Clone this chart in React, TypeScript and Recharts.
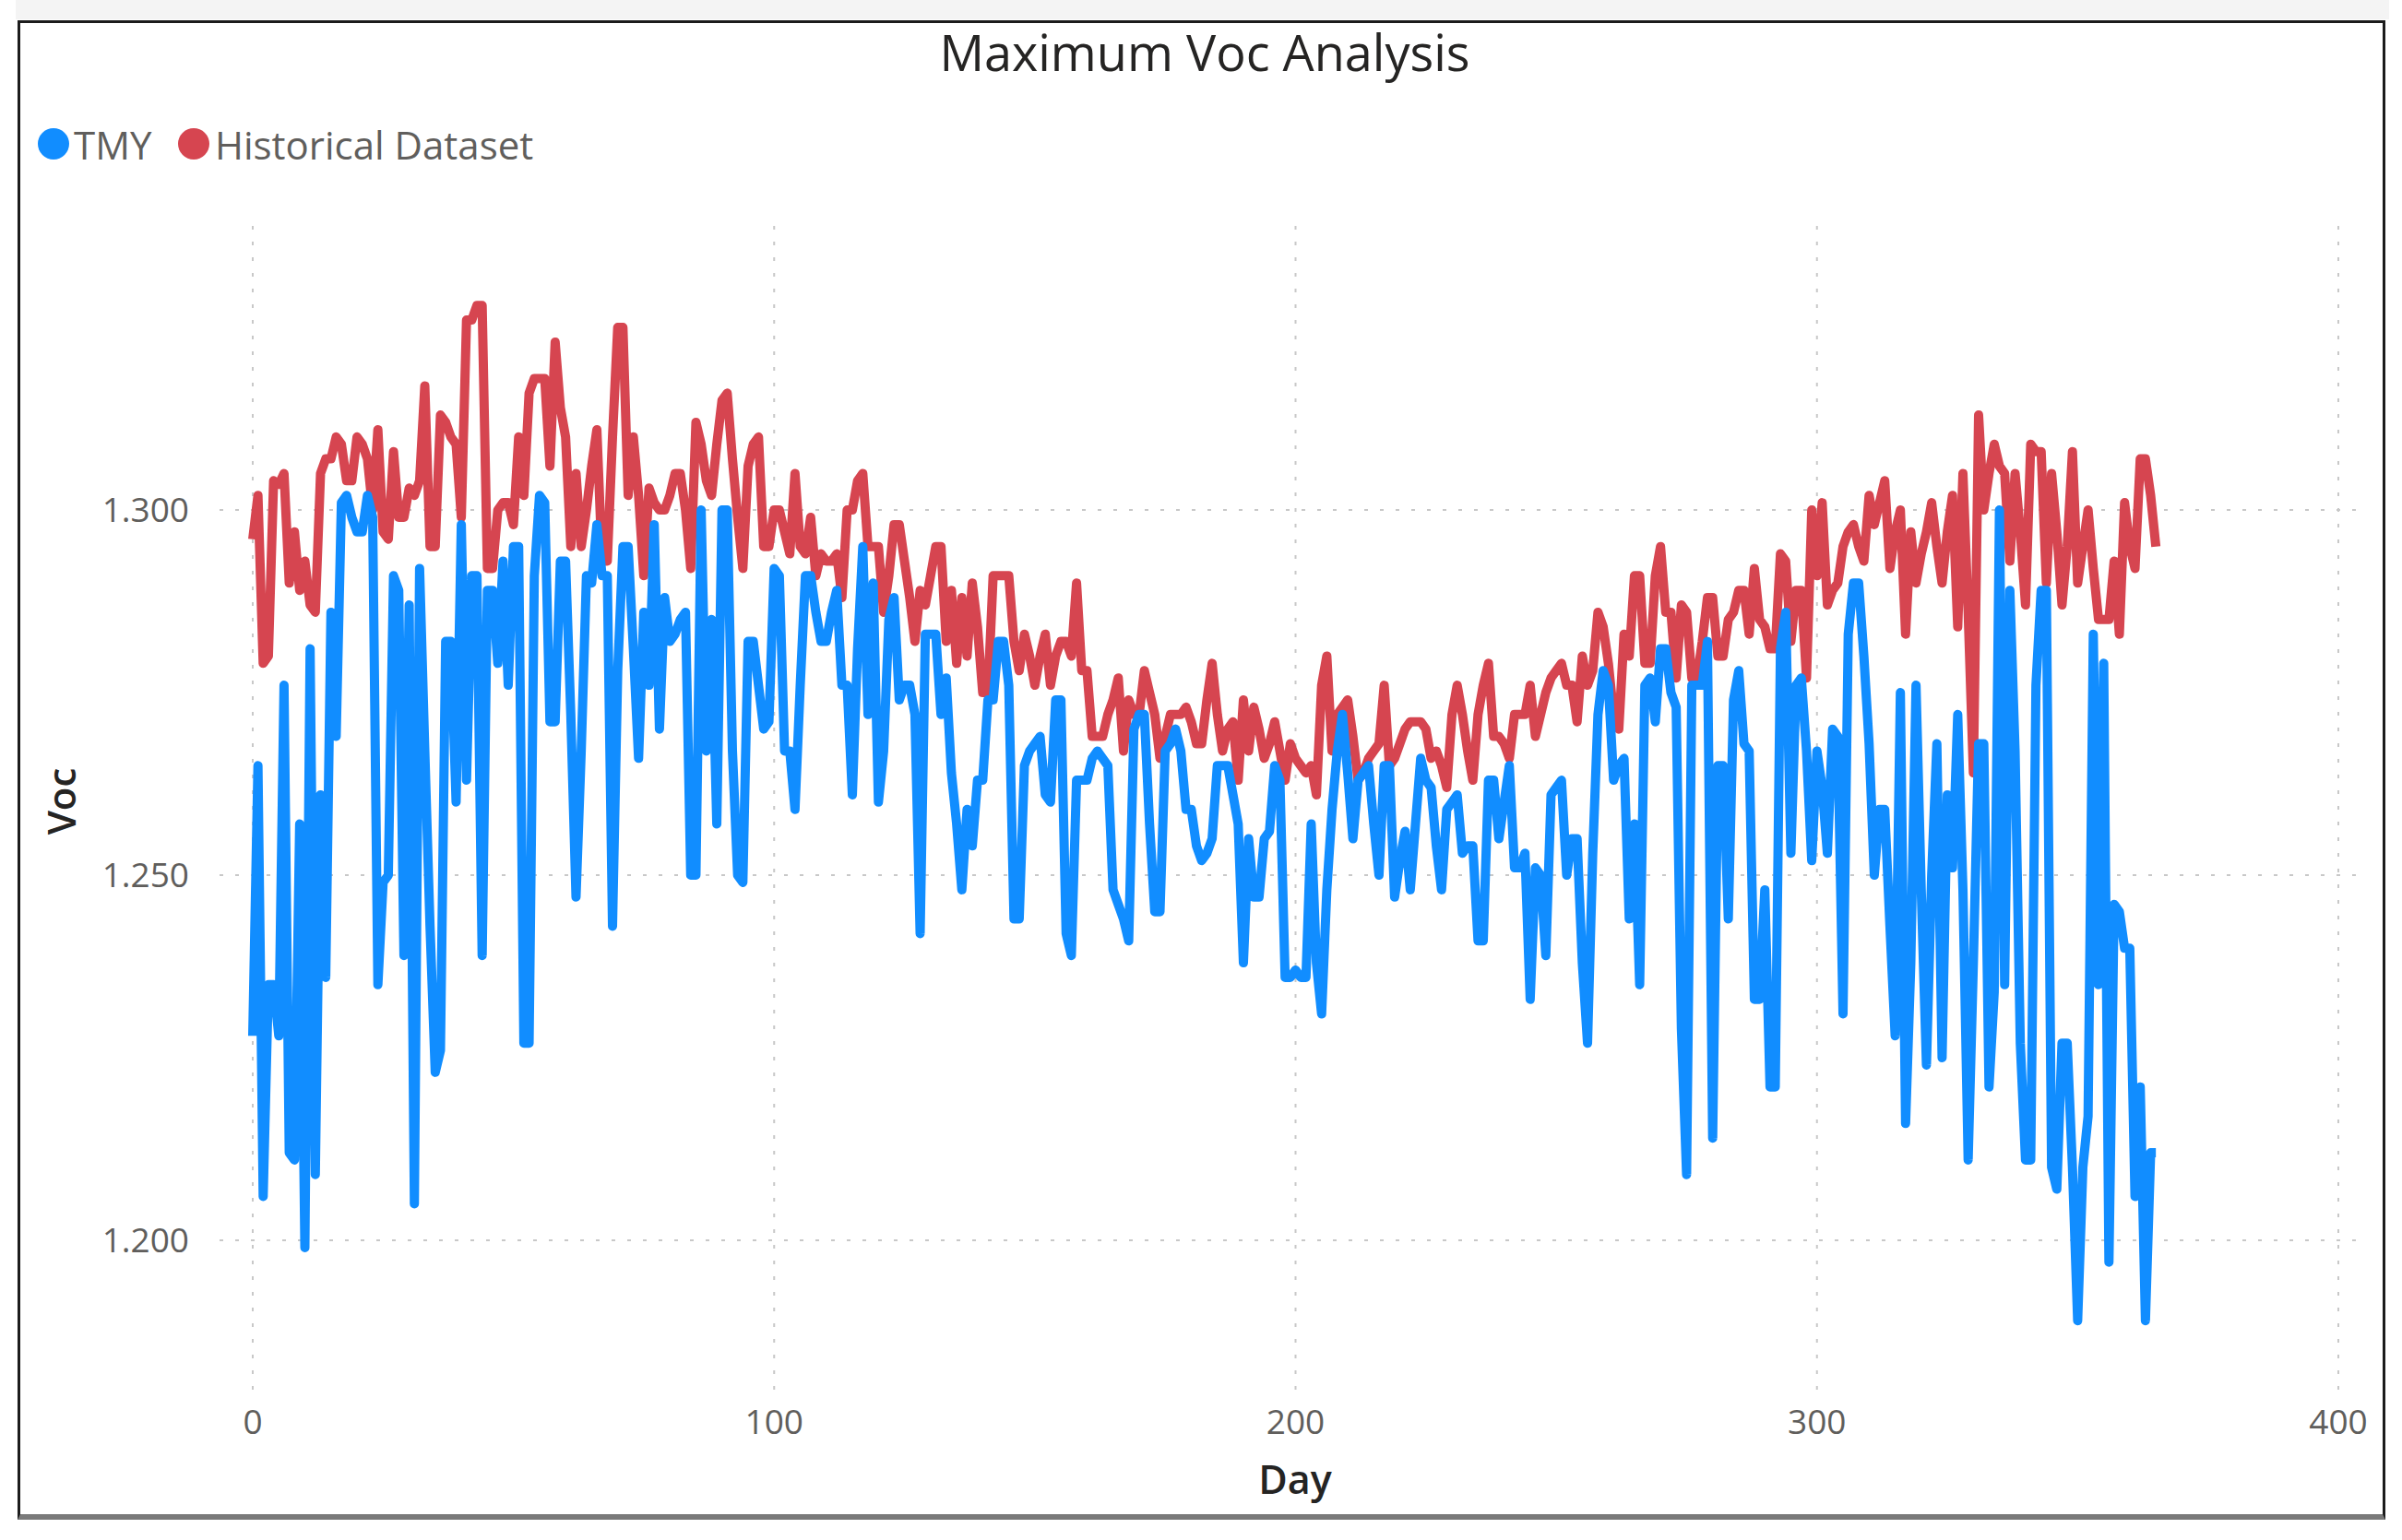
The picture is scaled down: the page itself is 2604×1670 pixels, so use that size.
import { LineChart, Line, XAxis, YAxis, ReferenceLine } from 'recharts';

// Max Voc per day (day index = position)
const tmy = [
  1.228, 1.265, 1.206, 1.235, 1.235, 1.228, 1.276, 1.212, 1.211, 1.257,
  1.199, 1.281, 1.209, 1.261, 1.236, 1.286, 1.269, 1.301, 1.302, 1.299,
  1.297, 1.297, 1.302, 1.299, 1.235, 1.249, 1.25, 1.291, 1.289, 1.239,
  1.287, 1.205, 1.292, 1.267, 1.243, 1.223, 1.226, 1.282, 1.282, 1.26,
  1.298, 1.263, 1.291, 1.291, 1.239, 1.289, 1.289, 1.279, 1.293, 1.276,
  1.295, 1.295, 1.227, 1.227, 1.291, 1.302, 1.301, 1.271, 1.271, 1.293,
  1.293, 1.272, 1.247, 1.267, 1.291, 1.29, 1.298, 1.291, 1.291, 1.243,
  1.278, 1.295, 1.295, 1.281, 1.266, 1.286, 1.276, 1.298, 1.27, 1.288,
  1.282, 1.283, 1.285, 1.286, 1.25, 1.25, 1.3, 1.267, 1.285, 1.257,
  1.3, 1.3, 1.267, 1.25, 1.249, 1.282, 1.282, 1.276, 1.27, 1.271,
  1.292, 1.291, 1.267, 1.267, 1.259, 1.276, 1.291, 1.291, 1.286, 1.282,
  1.282, 1.286, 1.289, 1.276, 1.276, 1.261, 1.281, 1.295, 1.272, 1.29,
  1.26, 1.267, 1.285, 1.288, 1.274, 1.276, 1.276, 1.272, 1.242, 1.283,
  1.283, 1.283, 1.272, 1.277, 1.264, 1.257, 1.248, 1.259, 1.254, 1.263,
  1.263, 1.274, 1.274, 1.282, 1.282, 1.276, 1.244, 1.244, 1.265, 1.267,
  1.268, 1.269, 1.261, 1.26, 1.274, 1.274, 1.242, 1.239, 1.263, 1.263,
  1.263, 1.266, 1.267, 1.266, 1.265, 1.248, 1.246, 1.244, 1.241, 1.27,
  1.272, 1.272, 1.257, 1.245, 1.245, 1.267, 1.268, 1.27, 1.267, 1.259,
  1.259, 1.254, 1.252, 1.253, 1.255, 1.265, 1.265, 1.265, 1.261, 1.257,
  1.238, 1.255, 1.247, 1.247, 1.255, 1.256, 1.265, 1.263, 1.236, 1.236,
  1.237, 1.236, 1.236, 1.257, 1.238, 1.231, 1.248, 1.259, 1.267, 1.272,
  1.264, 1.255, 1.263, 1.264, 1.265, 1.257, 1.25, 1.265, 1.265, 1.247,
  1.252, 1.256, 1.248, 1.257, 1.266, 1.263, 1.262, 1.254, 1.248, 1.259,
  1.26, 1.261, 1.253, 1.254, 1.254, 1.241, 1.241, 1.263, 1.263, 1.255,
  1.26, 1.265, 1.251, 1.251, 1.253, 1.233, 1.251, 1.25, 1.239, 1.261,
  1.262, 1.263, 1.25, 1.255, 1.255, 1.238, 1.227, 1.253, 1.272, 1.278,
  1.276, 1.263, 1.265, 1.266, 1.244, 1.257, 1.235, 1.276, 1.277, 1.271,
  1.281, 1.281, 1.275, 1.273, 1.229, 1.209, 1.276, 1.276, 1.276, 1.282,
  1.214, 1.265, 1.265, 1.244, 1.274, 1.278, 1.268, 1.267, 1.233, 1.233,
  1.248, 1.221, 1.221, 1.281, 1.286, 1.253, 1.276, 1.277, 1.267, 1.252,
  1.267, 1.262, 1.253, 1.27, 1.269, 1.231, 1.283, 1.29, 1.29, 1.28,
  1.268, 1.25, 1.259, 1.259, 1.243, 1.228, 1.275, 1.216, 1.238, 1.276,
  1.248, 1.224, 1.25, 1.268, 1.225, 1.261, 1.251, 1.272, 1.248, 1.211,
  1.238, 1.268, 1.268, 1.221, 1.234, 1.3, 1.235, 1.289, 1.267, 1.227,
  1.211, 1.211, 1.276, 1.289, 1.289, 1.21, 1.207, 1.227, 1.227, 1.21,
  1.189, 1.21, 1.217, 1.283, 1.235, 1.279, 1.197, 1.246, 1.245, 1.24,
  1.24, 1.206, 1.221, 1.189, 1.212, 1.212,
];

const historical = [
  1.296, 1.302, 1.279, 1.28, 1.304, 1.3035, 1.305, 1.29, 1.297, 1.289,
  1.293, 1.287, 1.286, 1.305, 1.307, 1.307, 1.31, 1.309, 1.304, 1.304,
  1.31, 1.309, 1.307, 1.3, 1.311, 1.297, 1.296, 1.308, 1.299, 1.299,
  1.303, 1.302, 1.304, 1.317, 1.295, 1.295, 1.313, 1.312, 1.31, 1.309,
  1.299, 1.326, 1.326, 1.328, 1.328, 1.292, 1.292, 1.3, 1.301, 1.301,
  1.298, 1.31, 1.302, 1.316, 1.318, 1.318, 1.318, 1.306, 1.323, 1.314,
  1.31, 1.295, 1.305, 1.295, 1.3, 1.306, 1.311, 1.293, 1.293, 1.31,
  1.325, 1.325, 1.302, 1.31, 1.302, 1.291, 1.303, 1.301, 1.3, 1.3,
  1.302, 1.305, 1.305, 1.3, 1.292, 1.312, 1.309, 1.304, 1.302, 1.309,
  1.315, 1.316, 1.307, 1.299, 1.292, 1.306, 1.309, 1.31, 1.295, 1.295,
  1.3, 1.3, 1.297, 1.294, 1.305, 1.295, 1.294, 1.299, 1.291, 1.294,
  1.293, 1.293, 1.294, 1.288, 1.3, 1.3, 1.304, 1.305, 1.295, 1.295,
  1.295, 1.286, 1.291, 1.298, 1.298, 1.293, 1.288, 1.282, 1.289, 1.287,
  1.291, 1.295, 1.295, 1.282, 1.289, 1.279, 1.288, 1.28, 1.29, 1.284,
  1.275, 1.275, 1.291, 1.291, 1.291, 1.291, 1.282, 1.278, 1.283, 1.28,
  1.276, 1.28, 1.283, 1.276, 1.28, 1.282, 1.282, 1.28, 1.29, 1.278,
  1.278, 1.269, 1.269, 1.269, 1.272, 1.274, 1.277, 1.267, 1.274, 1.272,
  1.272, 1.278, 1.275, 1.272, 1.266, 1.269, 1.272, 1.272, 1.272, 1.273,
  1.271, 1.268, 1.268, 1.274, 1.279, 1.272, 1.267, 1.27, 1.271, 1.263,
  1.274, 1.267, 1.273, 1.27, 1.266, 1.268, 1.271, 1.267, 1.263, 1.268,
  1.266, 1.265, 1.264, 1.265, 1.261, 1.276, 1.28, 1.267, 1.272, 1.273,
  1.274, 1.269, 1.263, 1.264, 1.266, 1.267, 1.268, 1.276, 1.265, 1.266,
  1.268, 1.27, 1.271, 1.271, 1.271, 1.27, 1.266, 1.267, 1.265, 1.262,
  1.272, 1.276, 1.272, 1.267, 1.263, 1.272, 1.276, 1.279, 1.269, 1.269,
  1.268, 1.266, 1.272, 1.272, 1.272, 1.276, 1.269, 1.272, 1.275, 1.277,
  1.278, 1.279, 1.276, 1.276, 1.271, 1.28, 1.276, 1.278, 1.286, 1.284,
  1.279, 1.272, 1.27, 1.283, 1.28, 1.291, 1.291, 1.279, 1.279, 1.291,
  1.295, 1.286, 1.286, 1.277, 1.287, 1.286, 1.277, 1.277, 1.282, 1.288,
  1.288, 1.28, 1.28, 1.285, 1.286, 1.289, 1.289, 1.283, 1.292, 1.285,
  1.284, 1.281, 1.281, 1.294, 1.293, 1.282, 1.289, 1.289, 1.277, 1.3,
  1.291, 1.301, 1.287, 1.289, 1.29, 1.295, 1.297, 1.298, 1.295, 1.293,
  1.302, 1.298, 1.301, 1.304, 1.292, 1.297, 1.3, 1.283, 1.297, 1.29,
  1.294, 1.297, 1.301, 1.295, 1.29, 1.297, 1.302, 1.284, 1.305, 1.286,
  1.264, 1.313, 1.3, 1.305, 1.309, 1.306, 1.305, 1.293, 1.305, 1.297,
  1.287, 1.309, 1.308, 1.308, 1.29, 1.305, 1.297, 1.287, 1.295, 1.308,
  1.29, 1.295, 1.3, 1.292, 1.285, 1.285, 1.285, 1.293, 1.283, 1.301,
  1.295, 1.292, 1.307, 1.307, 1.302, 1.295,
];

const dayTicks = [0, 100, 200, 300, 400];
const vocTicks = [1.2, 1.25, 1.3];

const BLUE = '#118DFF';
const RED = '#D64550';
const GRID = '#c8c8c8';
const FONT = '"Open Sans", "Noto Sans", sans-serif';

export default function App() {
  const data = tmy.map((v, i) => ({ day: i, tmy: v, historical: historical[i] }));

  return (
    <div style={{ position: 'absolute', left: 0, top: 0, width: 2604, height: 1670, background: '#fff', fontFamily: FONT }}>
      <div style={{ position: 'absolute', left: 17, top: 0, width: 2573, height: 21, background: '#f4f4f4' }} />
      <div
        style={{
          position: 'absolute', left: 19, top: 22, width: 2567, height: 1626, boxSizing: 'border-box',
          borderTop: '3px solid #1c1c1c', borderLeft: '3px solid #1c1c1c', borderRight: '3px solid #1c1c1c',
          borderBottom: '6px solid #7a7a7a',
        }}
      />

      <LineChart
        width={2604}
        height={1670}
        data={data}
        margin={{ top: 244, right: 46, bottom: 103, left: 138 }}
        style={{ position: 'absolute', left: 0, top: 0 }}
      >
        <XAxis
          type="number"
          dataKey="day"
          domain={[0, 400]}
          ticks={dayTicks}
          padding={{ left: 36, right: 23 }}
          axisLine={false}
          tickLine={false}
          tickSize={0}
          tickMargin={22}
          height={60}
          tick={{ fill: '#605E5C', fontSize: 37, fontFamily: FONT }}
        />
        <YAxis
          type="number"
          domain={[1.17955, 1.33902]}
          ticks={vocTicks}
          allowDataOverflow
          axisLine={false}
          tickLine={false}
          tickSize={0}
          tickMargin={33}
          width={100}
          tickFormatter={(v: number) => v.toFixed(3)}
          tick={{ fill: '#605E5C', fontSize: 37, fontFamily: FONT }}
        />
        {/* dotted grid at the tick values only */}
        {vocTicks.map((t) => (
          <ReferenceLine key={`h${t}`} y={t} stroke={GRID} strokeWidth={2} strokeDasharray="4 13" />
        ))}
        {dayTicks.map((t) => (
          <ReferenceLine key={`v${t}`} x={t} stroke={GRID} strokeWidth={2} strokeDasharray="4 13" />
        ))}
        <Line
          type="linear"
          dataKey="historical"
          stroke={RED}
          strokeWidth={10}
          strokeLinejoin="round"
          dot={false}
          activeDot={false}
          isAnimationActive={false}
        />
        <Line
          type="linear"
          dataKey="tmy"
          stroke={BLUE}
          strokeWidth={10}
          strokeLinejoin="round"
          dot={false}
          activeDot={false}
          isAnimationActive={false}
        />
      </LineChart>

      <svg width={2604} height={1670} style={{ position: 'absolute', left: 0, top: 0, pointerEvents: 'none' }}>
        <text x={1306} y={77} textAnchor="middle" fontSize={54} fill="#252423" fontFamily={FONT}>
          Maximum Voc Analysis
        </text>

        <circle cx={58} cy={156} r={17} fill={BLUE} />
        <text x={80} y={173} fontSize={42} fill="#605E5C" fontFamily={FONT}>TMY</text>
        <circle cx={210} cy={156} r={17} fill={RED} />
        <text x={233} y={173} fontSize={42} fill="#605E5C" fontFamily={FONT}>Historical Dataset</text>

        <text
          x={65}
          y={869}
          textAnchor="middle"
          dominantBaseline="central"
          transform="rotate(-90 65 869)"
          fontSize={42}
          fontWeight={600}
          fill="#252423"
          fontFamily={FONT}
        >
          Voc
        </text>
        <text x={1404} y={1620} textAnchor="middle" fontSize={43} fontWeight={600} fill="#252423" fontFamily={FONT}>
          Day
        </text>
      </svg>
    </div>
  );
}
